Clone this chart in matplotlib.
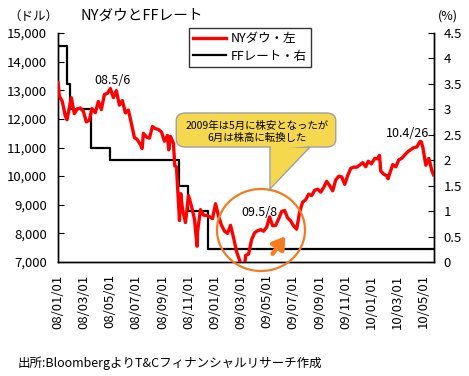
import matplotlib
matplotlib.use("Agg")
import matplotlib.pyplot as plt
import matplotlib.dates as mdates
import matplotlib.ticker as mticker
from matplotlib.patches import Ellipse, FancyBboxPatch, Polygon
import pandas as pd

plt.rcParams['font.family'] = ['Noto Sans CJK JP', 'DejaVu Sans']

# ---- Data ----
dow_dates = [
    "2008-01-01","2008-01-04","2008-01-11","2008-01-18","2008-01-22","2008-01-25","2008-02-01","2008-02-08",
    "2008-02-15","2008-02-22","2008-02-29","2008-03-07","2008-03-14","2008-03-20","2008-03-28","2008-04-04",
    "2008-04-11","2008-04-18","2008-04-25","2008-05-02","2008-05-09","2008-05-16","2008-05-23","2008-05-30",
    "2008-06-06","2008-06-13","2008-06-20","2008-06-27","2008-07-03","2008-07-11","2008-07-15","2008-07-18",
    "2008-07-25","2008-08-01","2008-08-08","2008-08-15","2008-08-22","2008-08-29","2008-09-05","2008-09-12",
    "2008-09-15","2008-09-19","2008-09-26","2008-09-29","2008-10-03","2008-10-10","2008-10-13","2008-10-17",
    "2008-10-24","2008-10-31","2008-11-07","2008-11-14","2008-11-20","2008-11-21","2008-11-28","2008-12-05",
    "2008-12-12","2008-12-19","2008-12-26","2009-01-02","2009-01-09","2009-01-16","2009-01-23","2009-01-30",
    "2009-02-06","2009-02-13","2009-02-20","2009-02-27","2009-03-06","2009-03-09","2009-03-13","2009-03-20",
    "2009-03-27","2009-04-03","2009-04-09","2009-04-17","2009-04-24","2009-05-01","2009-05-08","2009-05-15",
    "2009-05-22","2009-05-29","2009-06-05","2009-06-12","2009-06-19","2009-06-26","2009-07-02","2009-07-10",
    "2009-07-17","2009-07-24","2009-07-31","2009-08-07","2009-08-14","2009-08-21","2009-08-28","2009-09-04",
    "2009-09-11","2009-09-18","2009-09-25","2009-10-02","2009-10-09","2009-10-16","2009-10-23","2009-10-30",
    "2009-11-06","2009-11-13","2009-11-20","2009-11-27","2009-12-04","2009-12-11","2009-12-18","2009-12-24",
    "2009-12-31","2010-01-08","2010-01-15","2010-01-19","2010-01-22","2010-01-29","2010-02-05","2010-02-08",
    "2010-02-12","2010-02-19","2010-02-26","2010-03-05","2010-03-12","2010-03-19","2010-03-26","2010-04-02",
    "2010-04-09","2010-04-16","2010-04-23","2010-04-26","2010-04-30","2010-05-07","2010-05-14","2010-05-21",
    "2010-05-25",
]
dow_values = [
    13265, 12800, 12606, 12099, 11971, 12207, 12743, 12182,
    12348, 12381, 12266, 11894, 11951, 12361, 12216, 12609,
    12325, 12849, 12891, 13058, 12745, 12986, 12479, 12638,
    12209, 12307, 11842, 11346, 11288, 11100, 10963, 11496,
    11370, 11326, 11734, 11659, 11628, 11543, 11220, 11421,
    10917, 11388, 11143, 10365, 10325, 8451, 9388, 8852,
    8378, 9325, 8943, 8497, 7552, 8046, 8829, 8635,
    8629, 8579, 8515, 9034, 8599, 8281, 8077, 8000,
    8280, 7850, 7366, 7063, 6627, 6547, 7224, 7279,
    7776, 8018, 8083, 8131, 8076, 8212, 8575, 8268,
    8277, 8500, 8764, 8799, 8539, 8438, 8280, 8146,
    8743, 9093, 9171, 9370, 9321, 9505, 9544, 9441,
    9605, 9820, 9665, 9488, 9865, 9996, 9972, 9713,
    10023, 10270, 10318, 10310, 10388, 10471, 10329, 10520,
    10428, 10618, 10610, 10725, 10173, 10067, 10012, 9908,
    10099, 10402, 10325, 10567, 10625, 10742, 10851, 10927,
    10997, 11019, 11204, 11205, 11009, 10380, 10620, 10193,
    10043,
]
ff_dates = ["2008-01-01","2008-01-22","2008-01-30","2008-03-18","2008-04-30",
            "2008-10-08","2008-10-29","2008-12-16","2010-05-26"]
ff_values = [4.25, 3.5, 3.0, 2.25, 2.0, 1.5, 1.0, 0.25, 0.25]

series_labels = ["NYダウ・左", "FFレート・右"]
title = "NYダウとFFレート"
source = "出所:BloombergよりT&Cフィナンシャルリサーチ作成"
callout = "2009年は5月に株安となったが\n6月は株高に転換した"
peaks = [("08.5/6", 112, 80), ("09.5/8", 259, 212), ("10.4/26", 408, 133)]

# ---- Figure ----
W, H = 469, 376
fig = plt.figure(figsize=(W/100, H/100), dpi=100)
fig.patch.set_facecolor("white")

def fx(px):
    return px / W
def fy(py):
    return 1 - py / H

L, R, T, B = 58, 434, 33, 262
ax = fig.add_axes([fx(L), fy(B), fx(R) - fx(L), fy(T) - fy(B)])
ax2 = ax.twinx()

d_dow = pd.to_datetime(dow_dates)
d_ff = pd.to_datetime(ff_dates)

l1, = ax.plot(d_dow, dow_values, color="#FF0000", lw=2.4, zorder=3)
l2, = ax2.step(d_ff, ff_values, where="post", color="black", lw=1.6, zorder=2)

ax.set_zorder(ax2.get_zorder() + 1)
ax.patch.set_visible(False)

ax.set_ylim(7000, 15000)
ax2.set_ylim(0, 4.5)
ax.set_xlim(pd.Timestamp("2008-01-01"), pd.Timestamp("2010-05-26"))

ax.yaxis.set_major_locator(mticker.MultipleLocator(1000))
ax.yaxis.set_major_formatter(mticker.FuncFormatter(lambda v, p: f"{int(v):,}"))
ax2.yaxis.set_major_locator(mticker.MultipleLocator(0.5))
ax2.yaxis.set_major_formatter(mticker.FuncFormatter(lambda v, p: f"{v:g}"))

ax.xaxis.set_major_locator(mdates.MonthLocator(bymonth=[1, 3, 5, 7, 9, 11], bymonthday=1))
ax.xaxis.set_major_formatter(mdates.DateFormatter("%y/%m/%d"))
for lab in ax.get_xticklabels():
    lab.set_rotation(90)

for a in (ax, ax2):
    for s in a.spines.values():
        s.set_linewidth(1.0)
        s.set_color("black")
    a.spines["top"].set_visible(False)

ax.tick_params(axis="y", direction="in", length=4, labelsize=9.5, pad=8)
ax2.tick_params(axis="y", direction="in", length=4, labelsize=9.5, pad=7)
ax.tick_params(axis="x", direction="in", length=0, labelsize=9.5, pad=9)

# Titles / units
fig.text(fx(80), fy(16), title, fontsize=10.5, ha="left", va="center")
fig.text(fx(8), fy(16), "（ドル）", fontsize=9, ha="left", va="center")
fig.text(fx(438), fy(16), "(%)", fontsize=9, ha="left", va="center")
fig.text(fx(18), fy(363), source, fontsize=9, ha="left", va="center")

# Legend
leg = fig.legend([l1, l2], series_labels, loc="upper left",
                 bbox_to_anchor=(fx(189), fy(28)), frameon=True, fancybox=False,
                 fontsize=9, handlelength=2.6, borderpad=0.35, labelspacing=0.35,
                 handletextpad=0.4, borderaxespad=0)
leg.get_frame().set_edgecolor("black")
leg.get_frame().set_linewidth(1.0)

# Peak labels
for txt, px, py in peaks:
    fig.text(fx(px), fy(py), txt, fontsize=9, ha="center", va="center")

# Orange circle
circ = Ellipse((fx(261), fy(230)), width=88/W, height=82/H, transform=fig.transFigure,
               fill=False, edgecolor="#F47B20", lw=1.6, zorder=10)
fig.patches.append(circ)

# Orange arrow
fig.add_artist(matplotlib.patches.FancyArrowPatch(
    (fx(271), fy(256)), (fx(287), fy(234)), transform=fig.transFigure,
    arrowstyle="-|>,head_length=7,head_width=4.5", color="#F47B20", lw=3.2,
    mutation_scale=1, zorder=10))

# Callout
yellow = "#F6D84E"
edge = "#A0A0A0"
tri = Polygon([(fx(270), fy(147)), (fx(310), fy(147)), (fx(270), fy(189))],
              closed=True, transform=fig.transFigure, facecolor=yellow,
              edgecolor=edge, lw=1.0, zorder=11)
fig.add_artist(tri)
box = FancyBboxPatch((fx(180), fy(144)), fx(332) - fx(180), fy(116) - fy(144),
                     boxstyle="round,pad=0.008,rounding_size=0.02",
                     transform=fig.transFigure, facecolor=yellow, edgecolor=edge,
                     lw=1.0, zorder=12)
fig.add_artist(box)
cover = Polygon([(fx(271), fy(146)), (fx(308.5), fy(146)), (fx(271), fy(150))],
                closed=True, transform=fig.transFigure, facecolor=yellow,
                edgecolor="none", zorder=13)
fig.add_artist(cover)
fig.text(fx(257), fy(132), callout, fontsize=7.5, ha="center", va="center",
         linespacing=1.25, zorder=14)

fig.savefig("out.png", dpi=100)
